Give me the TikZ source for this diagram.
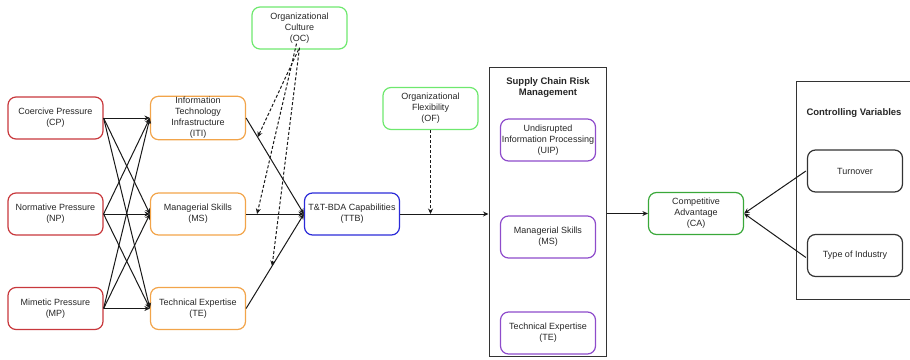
\documentclass[tikz,border=0pt]{standalone}
\usepackage{fontspec}
\setmainfont{Liberation Sans}
\usetikzlibrary{arrows.meta}
\definecolor{cred}{HTML}{C8383C}
\definecolor{corange}{HTML}{F2A44A}
\definecolor{clgreen}{HTML}{6EE86E}
\definecolor{cblue}{HTML}{2B2BD8}
\definecolor{cpurple}{HTML}{8E4CCB}
\definecolor{cdgreen}{HTML}{3AA83A}
\definecolor{cgray}{HTML}{333333}
\tikzset{
  box/.style={draw, rounded corners=8pt, line width=1.2pt, minimum width=95pt, minimum height=42pt,
    align=center, inner sep=1pt, font=\fontsize{9}{11}\selectfont, text=black!85},
  redbox/.style={box, draw=cred},
  orangebox/.style={box, draw=corange},
  lgreenbox/.style={box, draw=clgreen},
  bluebox/.style={box, draw=cblue},
  purplebox/.style={box, draw=cpurple},
  dgreenbox/.style={box, draw=cdgreen},
  graybox/.style={box, draw=cgray},
  container/.style={draw=cgray, line width=1pt, inner sep=0pt},
  title/.style={font=\bfseries\fontsize{9.5}{11.5}\selectfont, align=center, text=black!85},
  arr/.style={-{Stealth[length=5.5pt,width=5pt]}, line width=1pt, black!90},
  darr/.style={arr, dashed, dash pattern=on 3pt off 2pt},
}
\begin{document}
\begin{tikzpicture}[x=1pt,y=-1pt]
\useasboundingbox (0,0) rectangle (910,359);
% containers
\node[container, minimum width=117pt, minimum height=289pt] (scrm) at (547.5,211.5) {};
\node[title] (scrmt) at (548,87.5) {Supply Chain Risk\\Management};
\node[container, minimum width=119pt, minimum height=218pt] (ctrl) at (855.5,190) {};
\node[title] (ctrlt) at (854,113) {Controlling Variables};
% nodes
\node[redbox] (cp) at (55.5,118) {Coercive Pressure\\(CP)};
\node[redbox] (np) at (55.5,214) {Normative Pressure\\(NP)};
\node[redbox] (mp) at (55.5,308.5) {Mimetic Pressure\\(MP)};
\node[orangebox] (iti) at (198,118) {Information\\Technology\\Infrastructure\\(ITI)};
\node[orangebox] (ms) at (198,214) {Managerial Skills\\(MS)};
\node[orangebox] (te) at (198,308.5) {Technical Expertise\\(TE)};
\node[lgreenbox] (oc) at (299.5,28) {Organizational\\Culture\\(OC)};
\node[bluebox] (ttb) at (352,214) {T\&T-BDA Capabilities\\(TTB)};
\node[lgreenbox] (of) at (430.5,108.5) {Organizational\\Flexibility\\(OF)};
\node[purplebox] (uip) at (548,140) {Undisrupted\\Information Processing\\(UIP)};
\node[purplebox] (ms2) at (548,237) {Managerial Skills\\(MS)};
\node[purplebox] (te2) at (548,333) {Technical Expertise\\(TE)};
\node[dgreenbox] (ca) at (696,213.5) {Competitive\\Advantage\\(CA)};
\node[graybox] (to) at (855,171) {Turnover};
\node[graybox] (ti) at (855,255.5) {Type of Industry};
% antecedents
\foreach \s in {cp,np,mp}{
  \foreach \t in {iti,ms,te}{
    \draw[arr] (\s.east) -- (\t.west);
  }
}
\draw[arr] (iti.east) -- coordinate[pos=0.2] (m1) (ttb.west);
\draw[arr] (ms.east) -- coordinate[pos=0.19] (m2) (ttb.west);
\draw[arr] (te.east) -- coordinate[pos=0.45] (m3) (ttb.west);
\draw[darr] ([xshift=-1pt]oc.south) -- (m1);
\draw[darr] ([xshift=-3pt,yshift=6pt]oc.south) -- (m2);
\draw[darr] ([xshift=-0pt,yshift=2pt]oc.south) -- (m3);
\draw[arr] (ttb.east) -- coordinate[pos=0.337] (m4) (ttb.east -| scrm.west);
\draw[darr] (of.south) -- (of.south |- m4);
\draw[arr] (scrm.east |- ca.west) -- (ca.west);
\draw[arr] ([xshift=-1pt]to.west) -- (ca.east);
\draw[arr] ([xshift=-1pt,yshift=-2pt]ti.west) -- (ca.east);
\end{tikzpicture}
\end{document}
